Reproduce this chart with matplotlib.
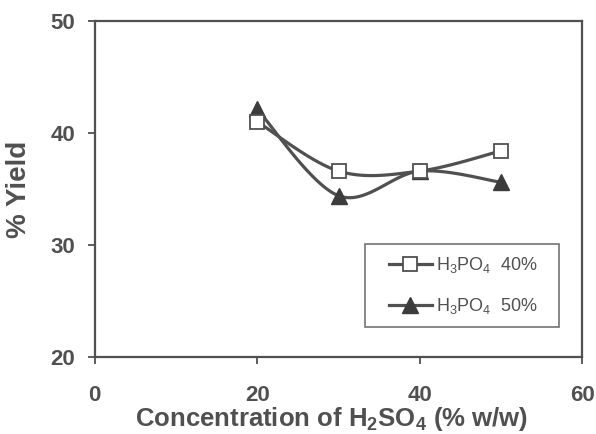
import numpy as np
import matplotlib
matplotlib.use('Agg')
import matplotlib.pyplot as plt
from matplotlib.legend_handler import HandlerLine2D

# 데이터
h2so4 = [20, 30, 40, 50]
yield_40 = [41.0, 36.6, 36.6, 38.4]
yield_50 = [42.1, 34.4, 36.6, 35.6]
labels = ['H$_3$PO$_4$  40%   ', 'H$_3$PO$_4$  50%   ']

x_ticks = [0, 20, 40, 60]
y_ticks = [20, 30, 40, 50]

gray = '#505050'


def smooth_curve(xs, ys, n=30):
    """Excel 스타일 부드러운 선 (Catmull-Rom 베지어)"""
    pts = np.column_stack([xs, ys]).astype(float)
    ext = np.vstack([pts[0], pts, pts[-1]])
    out = []
    t = np.linspace(0, 1, n)[:, None]
    for i in range(len(pts) - 1):
        p0, p1, p2, p3 = ext[i], ext[i + 1], ext[i + 2], ext[i + 3]
        c1 = p1 + (p2 - p0) / 6
        c2 = p2 - (p3 - p1) / 6
        seg = ((1 - t) ** 3) * p1 + 3 * ((1 - t) ** 2) * t * c1 + 3 * (1 - t) * t ** 2 * c2 + t ** 3 * p2
        out.append(seg if i == 0 else seg[1:])
    curve = np.vstack(out)
    marks = [0] + [(n - 1) * (k + 1) for k in range(len(pts) - 1)]
    return curve[:, 0], curve[:, 1], marks


plt.rcParams['font.family'] = ['Liberation Sans', 'DejaVu Sans']
plt.rcParams['mathtext.default'] = 'regular'

fig = plt.figure(figsize=(5.96, 4.34), dpi=100)
ax = fig.add_axes([0.159, 0.177, 0.818, 0.775])

cx, cy, mk = smooth_curve(h2so4, yield_40)
l1, = ax.plot(cx, cy, color=gray, linewidth=2.3, marker='s', markevery=mk,
              markersize=10, markerfacecolor='white', markeredgecolor=gray,
              markeredgewidth=1.3, label=labels[0], zorder=3)

cx, cy, mk = smooth_curve(h2so4, yield_50)
l2, = ax.plot(cx, cy, color=gray, linewidth=2.3, marker='^', markevery=mk,
              markersize=11, markerfacecolor='#3c3c3c', markeredgecolor='#3c3c3c',
              label=labels[1], zorder=2)

ax.set_xlim(0, 60)
ax.set_ylim(20, 50)
ax.set_xticks(x_ticks)
ax.set_yticks(y_ticks)
ax.tick_params(direction='out', length=5, width=1.3, color=gray,
               labelsize=16, labelcolor=gray)
ax.tick_params(axis='y', pad=9)
ax.tick_params(axis='x', pad=15)
for lab in ax.get_xticklabels() + ax.get_yticklabels():
    lab.set_fontweight('bold')

for sp in ax.spines.values():
    sp.set_color(gray)
    sp.set_linewidth(1.6)

ax.set_xlabel('Concentration of H$_2$SO$_4$ (% w/w)', fontsize=18.5,
              fontweight='bold', color=gray, labelpad=0)
ax.set_ylabel('% Yield', fontsize=20, fontweight='bold', color=gray)
ax.xaxis.set_label_coords(0.485, -0.143)
ax.yaxis.set_label_coords(-0.128, 0.5)

handler = HandlerLine2D(xpad=0.7)
leg = ax.legend(loc='lower right', bbox_to_anchor=(0.952, 0.09),
                fontsize=13, frameon=True, fancybox=False, edgecolor=gray,
                handlelength=3.1, borderpad=0.6, labelspacing=1.15,
                handletextpad=0.2, borderaxespad=0,
                handler_map={l1: handler, l2: handler})
leg.get_frame().set_linewidth(1.2)
for t in leg.get_texts():
    t.set_color(gray)

fig.savefig('out.png', dpi=100)
